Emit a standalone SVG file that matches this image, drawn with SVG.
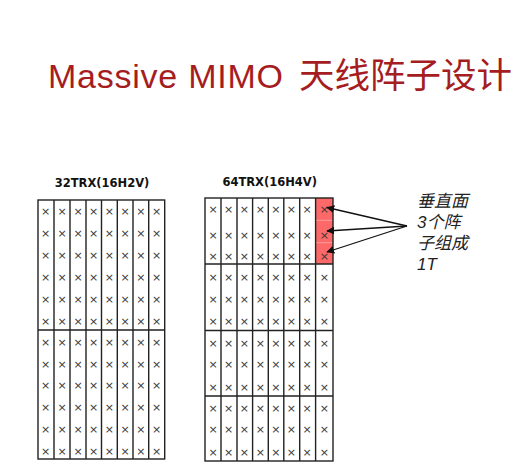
<svg xmlns="http://www.w3.org/2000/svg" width="532" height="464" viewBox="0 0 532 464">
<defs>
<marker id="ah" viewBox="0 0 10 10" refX="9" refY="5" markerWidth="8" markerHeight="8" markerUnits="userSpaceOnUse" orient="auto">
<path d="M0,0 L10,5 L0,10 z" fill="#111"/>
</marker>
</defs>
<style>
.grid{fill:none;stroke:#222;stroke-width:1.4}
.x{font-family:"DejaVu Sans",sans-serif;font-size:11px;fill:#3a3a3a;text-anchor:middle}
.lbl{font-family:"DejaVu Sans",sans-serif;font-size:11.5px;font-weight:bold;fill:#111;text-anchor:middle}
.note{font-family:"Liberation Sans","Noto Sans CJK SC",sans-serif;font-size:17px;font-style:italic;fill:#222}
.arrow{stroke:#111;stroke-width:1.3;fill:none}
</style>
<rect width="532" height="464" fill="#fff"/>
<g id="title">
<text y="88" fill="#a51d1f"><tspan x="48" font-family="Liberation Sans,sans-serif" font-size="34" textLength="235" lengthAdjust="spacing">Massive MIMO</tspan><tspan x="299" font-family="Noto Sans CJK SC,sans-serif" font-size="35.5">天线阵子设计</tspan></text>
</g>
<g id="grid32">
<text class="lbl" x="102" y="186.5">32TRX(16H2V)</text>
<rect class="grid" x="38" y="200" width="126.7" height="259"/>
<path class="grid" d="M54,200V459M70,200V459M86,200V459M101.5,200V459M117.3,200V459M133,200V459M148.7,200V459M38,330H164.7"/>
<g class="x">
<text x="45.5 62 78 93.6 109.4 125.2 140.8 156.5" y="214.8">××××××××</text>
<text x="45.5 62 78 93.6 109.4 125.2 140.8 156.5" y="236.8">××××××××</text>
<text x="45.5 62 78 93.6 109.4 125.2 140.8 156.5" y="258.8">××××××××</text>
<text x="45.5 62 78 93.6 109.4 125.2 140.8 156.5" y="280.8">××××××××</text>
<text x="45.5 62 78 93.6 109.4 125.2 140.8 156.5" y="302.8">××××××××</text>
<text x="45.5 62 78 93.6 109.4 125.2 140.8 156.5" y="325">××××××××</text>
<text x="45.5 62 78 93.6 109.4 125.2 140.8 156.5" y="345.8">××××××××</text>
<text x="45.5 62 78 93.6 109.4 125.2 140.8 156.5" y="367.5">××××××××</text>
<text x="45.5 62 78 93.6 109.4 125.2 140.8 156.5" y="389.3">××××××××</text>
<text x="45.5 62 78 93.6 109.4 125.2 140.8 156.5" y="411">××××××××</text>
<text x="45.5 62 78 93.6 109.4 125.2 140.8 156.5" y="432.8">××××××××</text>
<text x="45.5 62 78 93.6 109.4 125.2 140.8 156.5" y="454.5">××××××××</text>
</g>
</g>
<g id="grid64">
<text class="lbl" x="269.7" y="186">64TRX(16H4V)</text>
<rect x="315.6" y="198" width="17.4" height="66" fill="#fd6868"/>
<path d="M315.6,220.3H333M315.6,242.7H333" stroke="#ff9c9c" stroke-width="1"/>
<rect class="grid" x="205" y="198" width="128" height="263"/>
<path class="grid" d="M221,198V461M237,198V461M252.6,198V461M268.3,198V461M283.8,198V461M299.7,198V461M315.6,198V461M205,264H333M205,330.5H333M205,396H333"/>
<g class="x">
<text x="213 228.6 244.4 260.3 275.8 291.3 307.2 324.3" y="213.1">××××××××</text>
<text x="213 228.6 244.4 260.3 275.8 291.3 307.2 324.3" y="239.3">××××××××</text>
<text x="213 228.6 244.4 260.3 275.8 291.3 307.2 324.3" y="260.1">××××××××</text>
<text x="213 228.6 244.4 260.3 275.8 291.3 307.2 324.3" y="281.1">××××××××</text>
<text x="213 228.6 244.4 260.3 275.8 291.3 307.2 324.3" y="303.1">××××××××</text>
<text x="213 228.6 244.4 260.3 275.8 291.3 307.2 324.3" y="324.5">××××××××</text>
<text x="213 228.6 244.4 260.3 275.8 291.3 307.2 324.3" y="346.5">××××××××</text>
<text x="213 228.6 244.4 260.3 275.8 291.3 307.2 324.3" y="367.8">××××××××</text>
<text x="213 228.6 244.4 260.3 275.8 291.3 307.2 324.3" y="390.5">××××××××</text>
<text x="213 228.6 244.4 260.3 275.8 291.3 307.2 324.3" y="411.8">××××××××</text>
<text x="213 228.6 244.4 260.3 275.8 291.3 307.2 324.3" y="433.1">××××××××</text>
<text x="213 228.6 244.4 260.3 275.8 291.3 307.2 324.3" y="455.8">××××××××</text>
</g>
</g>
<g id="note">
<text class="note" x="417" y="206.5">垂直面</text>
<text class="note" x="417" y="227.5">3个阵</text>
<text class="note" x="417" y="248.5">子组成</text>
<text class="note" x="417" y="269.5">1T</text>
</g>
<g id="connectors">
<line class="arrow" x1="407" y1="226" x2="327" y2="207.5" marker-end="url(#ah)"/>
<line class="arrow" x1="407" y1="226" x2="327" y2="231" marker-end="url(#ah)"/>
<line class="arrow" x1="407" y1="226" x2="327" y2="252" marker-end="url(#ah)"/>
</g>
</svg>
